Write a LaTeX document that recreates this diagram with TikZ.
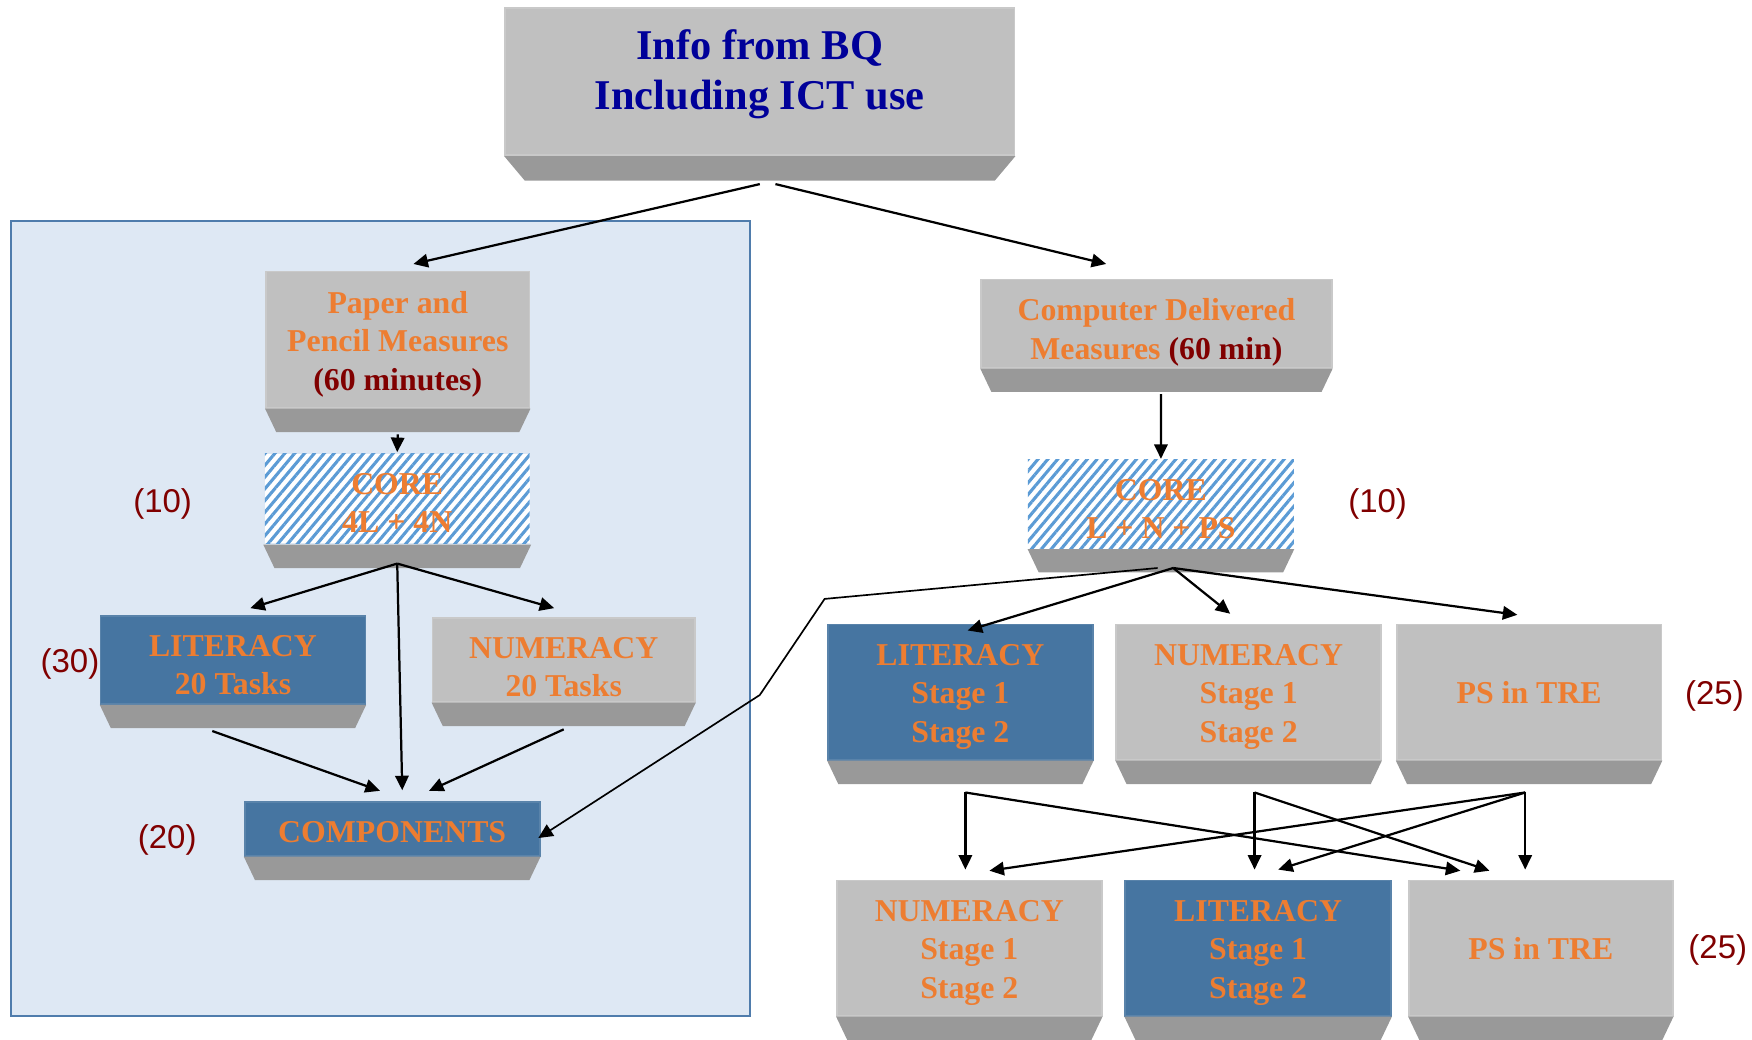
\documentclass[tikz,border=0pt]{standalone}
\usepackage{fontspec}
\setmainfont{Liberation Serif}
\setsansfont{Liberation Sans}
\usetikzlibrary{positioning,arrows.meta,patterns.meta}

\definecolor{facegray}{HTML}{C0C0C0}
\definecolor{basegray}{HTML}{999999}
\definecolor{faceblue}{HTML}{4675A1}
\definecolor{txtorange}{HTML}{ED7D31}
\definecolor{darkred}{HTML}{800000}
\definecolor{navytext}{HTML}{000099}
\definecolor{panelfill}{HTML}{DEE8F4}
\definecolor{paneledge}{HTML}{4F7CAC}
\definecolor{hatchblue}{HTML}{5B9BD5}

\newcommand{\facetext}[2][0pt]{\raisebox{#1}[\height][\depth]{\begin{tabular}{@{}c@{}}#2\end{tabular}}}

\begin{document}
\begin{tikzpicture}[
    x=0.2mm, y=-0.2mm,
    face/.style={rectangle, inner sep=0pt, align=center,
        font=\bfseries\fontsize{16.2}{19.6}\selectfont, text=txtorange},
    graybox/.style={face, fill=facegray, draw=facegray!85!white, line width=0.3mm},
    bluebox/.style={face, fill=faceblue, draw=faceblue!90!white, line width=0.3mm},
    corebox/.style={face, preaction={fill=white},
        pattern={Lines[angle=50, distance=1.35mm, line width=0.55mm]},
        pattern color=hatchblue},
    count/.style={inner sep=0pt, text=darkred,
        font=\sffamily\fontsize{16.8}{20}\selectfont},
    arr/.style={-{Triangle[length=2.6mm, width=2.4mm]}, line width=0.4mm},
]
    \useasboundingbox (0,0) rectangle (1568,930);
    \draw[fill=panelfill, draw=paneledge, line width=0.4mm] (10,198) rectangle (671,909);

    \node[graybox, minimum width=91.2mm, minimum height=26.4mm, text=navytext,
          font=\bfseries\fontsize{21.6}{25.4}\selectfont] (info) at (680,73)
        {\facetext[1.3mm]{Info from BQ\\Including ICT use}};

    \node[graybox, minimum width=47.2mm, minimum height=24.4mm] (paper) at (356,304)
        {\facetext[-0.8mm]{Paper and\\Pencil Measures\\\textcolor{darkred}{(60 minutes)}}};
    \node[corebox, minimum width=47.4mm, minimum height=16mm] (core1) at (355.5,446)
        {\facetext[-1.3mm]{CORE\\4L + 4N}};
    \node[bluebox, minimum width=47.4mm, minimum height=15.8mm] (lit1) at (208.5,590.5)
        {\facetext[-1.4mm]{LITERACY\\20 Tasks}};
    \node[graybox, minimum width=47mm, minimum height=15mm] (num1) at (504.5,590.5)
        {\facetext[-1.8mm]{NUMERACY\\20 Tasks}};
    \node[bluebox, minimum width=52.8mm, minimum height=9.6mm] (comp) at (351,742)
        {\facetext[-1.1mm]{COMPONENTS}};

    \node[graybox, minimum width=62.8mm, minimum height=15.8mm] (cdm) at (1035,289.5)
        {\facetext[-1.6mm]{Computer Delivered\\Measures \textcolor{darkred}{(60 min)}}};
    \node[corebox, minimum width=47.6mm, minimum height=16mm] (core2) at (1039,451)
        {\facetext[-1.4mm]{CORE\\L + N + PS}};
    \node[bluebox, minimum width=47.4mm, minimum height=24.2mm] (lit2) at (859.5,619.5)
        {\facetext[-0.7mm]{LITERACY\\Stage 1\\Stage 2}};
    \node[graybox, minimum width=47.4mm, minimum height=24.2mm] (num2) at (1117.5,619.5)
        {\facetext[-0.7mm]{NUMERACY\\Stage 1\\Stage 2}};
    \node[graybox, minimum width=47.4mm, minimum height=24.2mm] (ps2) at (1368.5,619.5)
        {\facetext[-0.6mm]{PS in TRE}};
    \node[graybox, minimum width=47.4mm, minimum height=24.2mm] (num3) at (867.5,848.5)
        {\facetext[-0.7mm]{NUMERACY\\Stage 1\\Stage 2}};
    \node[bluebox, minimum width=47.6mm, minimum height=24.2mm] (lit3) at (1126,848.5)
        {\facetext[-0.7mm]{LITERACY\\Stage 1\\Stage 2}};
    \node[graybox, minimum width=47.2mm, minimum height=24.2mm] (ps3) at (1379,848.5)
        {\facetext[-0.6mm]{PS in TRE}};

    \fill[basegray] (info.south west) -- (info.south east)
        -- ([xshift=-3.7mm,yshift=-4.4mm]info.south east)
        -- ([xshift=3.7mm,yshift=-4.4mm]info.south west) -- cycle;
    \foreach \b in {paper,core1,lit1,num1,comp,cdm,core2,lit2,num2,ps2,num3,lit3,ps3}
        \fill[basegray] (\b.south west) -- (\b.south east)
            -- ([xshift=-2mm,yshift=-4.2mm]\b.south east)
            -- ([xshift=2mm,yshift=-4.2mm]\b.south west) -- cycle;

    \node[count, left=12.7mm of core1, yshift=-1mm] (n10a) {(10)};
    \node[count, left=0mm of lit1, yshift=-0.8mm] (n30) {(30)};
    \node[count, left=8.4mm of comp, yshift=-2mm] (n20) {(20)};
    \node[count, right=9.6mm of core2] (n10b) {(10)};
    \node[count, right=4mm of ps2, yshift=-0.6mm] (n25a) {(25)};
    \node[count, right=2.6mm of ps3, yshift=-0.4mm] (n25b) {(25)};

    \draw[arr] ([yshift=-5mm]info.south) -- ([xshift=2.8mm,yshift=1.2mm]paper.north);
    \draw[arr] ([xshift=2.8mm,yshift=-5mm]info.south) -- ([xshift=-9mm,yshift=2.6mm]cdm.north);
    \draw[arr] ([yshift=-4.6mm]paper.south) -- (core1.north);

    \coordinate (core1-out) at ([yshift=-3.4mm]core1.south);
    \draw[arr] (core1-out) -- ([xshift=3.1mm,yshift=1.2mm]lit1.north);
    \draw[arr] (core1-out) -- ([xshift=1.8mm,yshift=2mm]comp.north);
    \draw[arr] (core1-out) -- ([xshift=-1.7mm,yshift=1.6mm]num1.north);
    \draw[arr] ([xshift=-3.7mm,yshift=-4.7mm]lit1.south) -- ([xshift=-2.2mm,yshift=1.9mm]comp.north);
    \draw[arr] ([yshift=-4.8mm]num1.south) -- ([xshift=6.6mm,yshift=1.9mm]comp.north);

    \draw[arr] ([xshift=0.8mm,yshift=-4.6mm]cdm.south) -- (core2.north);
    \coordinate (core2-out) at ([xshift=2.2mm,yshift=-3.4mm]core2.south);
    \draw[arr] (core2-out) -- ([xshift=1.3mm,yshift=-1.2mm]lit2.north);
    \draw[arr] (core2-out) -- ([xshift=-3.3mm,yshift=1.8mm]num2.north);
    \draw[arr] (core2-out) -- ([xshift=-2.1mm,yshift=1.6mm]ps2.north);
    \coordinate (bend1) at (738,536);
    \coordinate (bend2) at (680,622);
    \draw[arr, line width=0.3mm] ([xshift=-0.6mm,yshift=-3.4mm]core2.south) -- (bend1) -- (bend2)
        -- ([xshift=-0.4mm,yshift=-1.6mm]comp.east);

    \coordinate (lit2-out) at ([xshift=0.9mm,yshift=-5.7mm]lit2.south);
    \coordinate (num2-out) at ([xshift=1.06mm,yshift=-5.7mm]num2.south);
    \coordinate (ps2-out) at ([xshift=-0.7mm,yshift=-5.7mm]ps2.south);
    \coordinate (row3) at ([yshift=1.8mm]num3.north);
    \draw[arr] (lit2-out) -- (lit2-out |- row3);
    \draw[arr] (lit2-out) -- ([xshift=-14.4mm,yshift=1.6mm]ps3.north);
    \draw[arr] (num2-out) -- (num2-out |- row3);
    \draw[arr] (num2-out) -- ([xshift=-9.2mm,yshift=1.6mm]ps3.north);
    \draw[arr] (ps2-out) -- (ps2-out |- row3);
    \draw[arr] (ps2-out) -- ([xshift=3.6mm,yshift=1.6mm]num3.north);
    \draw[arr] (ps2-out) -- ([xshift=3.6mm,yshift=1.8mm]lit3.north);
\end{tikzpicture}
\end{document}
